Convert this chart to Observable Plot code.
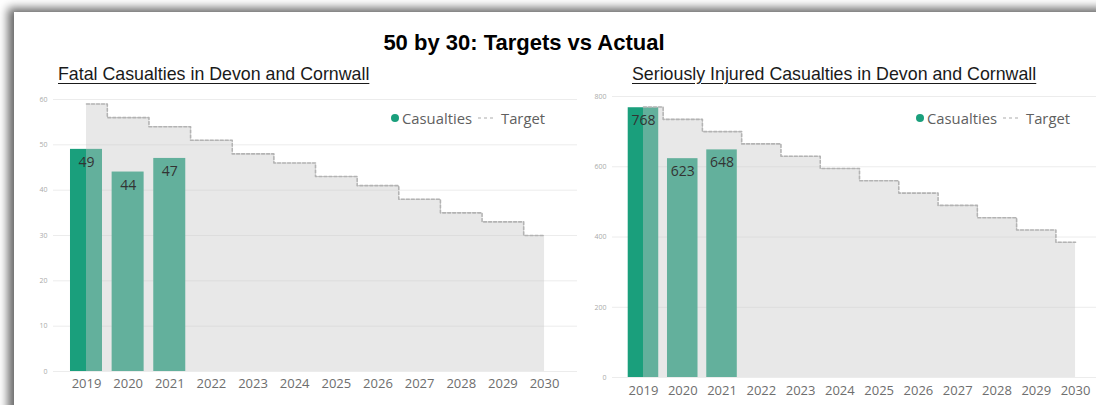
<!DOCTYPE html>
<html><head><meta charset="utf-8">
<script src="https://cdn.jsdelivr.net/npm/d3@7"></script>
<script src="https://cdn.jsdelivr.net/npm/@observablehq/plot@0.6"></script>
<style>
html,body{margin:0;padding:0;}
body{width:1096px;height:405px;overflow:hidden;position:relative;background:#fff;}
#panel{position:absolute;left:14px;top:12px;width:1200px;height:500px;background:#fff;box-shadow:-6px -4px 9px rgba(0,0,0,0.6);}
.abs{position:absolute;white-space:nowrap;}
#title{left:0;width:1048px;text-align:center;top:30px;font:bold 22px "Liberation Sans",Arial,sans-serif;color:#000;}
.sub{font:17.8px "Liberation Sans",Arial,sans-serif;color:#1a1a1a;text-decoration:underline;text-underline-offset:3px;}
.legend{font:14.8px "Open Sans",sans-serif;color:#606060;display:flex;align-items:center;height:20px;}
.legend .dot{width:8px;height:8px;border-radius:50%;background:#1a9f7c;margin-right:3px;}
.legend svg{margin:0 6px 0 6px;}
</style></head>
<body>
<div id="panel"></div>
<div id="title" class="abs">50 by 30: Targets vs Actual</div>
<div id="sub1" class="abs sub" style="left:58px;top:64px;">Fatal Casualties in Devon and Cornwall</div>
<div id="sub2" class="abs sub" style="left:632px;top:64px;">Seriously Injured Casualties in Devon and Cornwall</div>
<div id="left" class="abs" style="left:0;top:90px;"></div>
<div id="right" class="abs" style="left:560px;top:90px;"></div>
<div id="leg1" class="abs legend" style="left:391px;top:108px;"></div>
<div id="leg2" class="abs legend" style="left:916px;top:108px;"></div>
<script>
const years = ["2019","2020","2021","2022","2023","2024","2025","2026","2027","2028","2029","2030"];
const actualYears = ["2019","2020","2021"];
const fatalActual = [49, 44, 47];
const fatalTarget = [59, 56, 54, 51, 48, 46, 43, 41, 38, 35, 33, 30];
const seriousActual = [768, 623, 648];
const seriousTarget = [770, 735, 700, 665, 630, 595, 560, 525, 490, 455, 420, 385];
const fatalTicks = [0, 10, 20, 30, 40, 50, 60];
const seriousTicks = [0, 200, 400, 600, 800];
const legendNames = ["Casualties", "Target"];

const green = "#1a9f7c";
const font = "Open Sans";

function chart({actual, target, yMax, ticks, width, range, marginTop, marginBottom, pi, po, tickPad}) {
  const bars = actualYears.map((y, i) => ({year: y, value: actual[i]}));
  const tgt = years.map((y, i) => ({year: y, value: target[i]}));
  return Plot.plot({
    width, height: 315, marginLeft: range[0], marginRight: 0, marginTop, marginBottom,
    style: {background: "transparent", overflow: "visible", maxWidth: "none"},
    x: {type: "band", domain: years, range, paddingInner: pi, paddingOuter: po, round: false},
    y: {domain: [0, yMax]},
    marks: [
      Plot.gridY(ticks, {stroke: "#ececec", strokeOpacity: 1}),
      Plot.barY(bars, {x: "year", y: "value", fill: green}),
      Plot.areaY(tgt, {x: "year", y: "value", curve: "step", fill: "#c8c8c8", fillOpacity: 0.42}),
      Plot.lineY(tgt, {x: "year", y: "value", curve: "step", stroke: "#b3b3b3", strokeWidth: 1.6, strokeDasharray: "3,2"}),
      Plot.text(bars, {x: "year", y: "value", text: d => String(d.value), dy: 13, fontSize: 14, fontFamily: font, fill: "#333"}),
      Plot.axisX({tickSize: 0, tickPadding: tickPad, fontSize: 13, fontFamily: font, color: "#6e6e6e", label: null}),
      Plot.axisY(ticks, {tickSize: 0, tickPadding: 6, fontSize: 7, fontFamily: font, color: "#aaa", label: null})
    ]
  });
}

document.getElementById("left").append(chart({
  actual: fatalActual, target: fatalTarget, yMax: 60, ticks: fatalTicks,
  width: 577, range: [53, 577], marginTop: 9, marginBottom: 34, pi: 0.2315, po: 0.408, tickPad: 7
}));
document.getElementById("right").append(chart({
  actual: seriousActual, target: seriousTarget, yMax: 800, ticks: seriousTicks,
  width: 536, range: [52, 546], marginTop: 6, marginBottom: 28, pi: 0.223, po: 0.40, tickPad: 8
}));

for (const id of ["leg1", "leg2"]) {
  const el = document.getElementById(id);
  el.innerHTML = `<span class="dot"></span><span>${legendNames[0]}</span>` +
    `<svg width="17" height="4"><line x1="0" y1="2" x2="17" y2="2" stroke="#c8c8c8" stroke-width="1.5" stroke-dasharray="3,3"/></svg>` +
    `<span>${legendNames[1]}</span>`;
}
</script>
</body></html>
